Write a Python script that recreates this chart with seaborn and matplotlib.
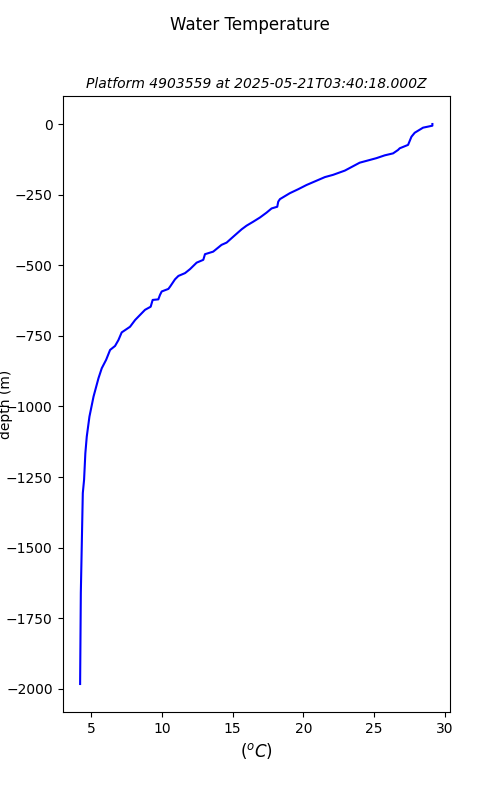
import matplotlib

matplotlib.use("Agg")

import matplotlib.pyplot as plt
import pandas as pd
import seaborn as sns

PLATFORM = "4903559"
TIMESTAMP = "2025-05-21T03:40:18.000Z"

# temperature (degC) and depth (m)
TEMPERATURE = [
    29.13, 29.13, 28.47, 27.88, 27.65, 27.41, 26.82, 26.70, 26.35, 25.76,
    25.17, 23.99, 22.94, 22.11, 21.53, 20.23, 19.64, 19.05, 18.35, 18.23,
    18.16, 17.76, 17.40, 16.94, 16.46, 15.99, 15.64, 15.05, 14.58, 14.22,
    13.63, 13.05, 12.93, 12.46, 11.99, 11.64, 11.17, 10.93, 10.58, 10.46,
    9.99, 9.87, 9.75, 9.35, 9.21, 8.81, 8.46, 8.11, 7.75, 7.16,
    6.93, 6.69, 6.34, 6.06, 5.75, 5.52, 5.17, 4.88, 4.69, 4.59,
    4.50, 4.41, 4.34, 4.27, 4.22,
]
DEPTH = [
    0, -6, -13, -31, -45, -74, -86, -92, -104, -111,
    -121, -137, -165, -180, -188, -216, -231, -245, -266, -275,
    -293, -299, -314, -331, -346, -360, -373, -399, -420, -428,
    -452, -461, -481, -491, -514, -528, -538, -550, -576, -584,
    -593, -605, -621, -623, -647, -658, -676, -694, -718, -738,
    -765, -786, -800, -835, -865, -900, -965, -1036, -1107, -1166,
    -1260, -1307, -1484, -1661, -1983,
]


def main() -> None:
    profile = pd.DataFrame({"temperature": TEMPERATURE, "depth": DEPTH})

    fig, ax = plt.subplots(figsize=(5, 8), dpi=100)
    sns.lineplot(
        data=profile,
        x="temperature",
        y="depth",
        sort=False,
        estimator=None,
        color="blue",
        linewidth=1.5,
        ax=ax,
    )
    fig.suptitle("Water Temperature")
    ax.set_title(f"Platform {PLATFORM} at {TIMESTAMP}", fontsize=10, style="italic")
    ax.set_xlabel("$(^oC)$", fontsize=12)
    ax.set_ylabel("depth (m)")
    # label sits tight against the tick labels, as in the original
    ax.yaxis.set_label_coords(-0.128, 0.5)
    fig.savefig("out.png", dpi=100)
    plt.close(fig)


if __name__ == "__main__":
    main()
